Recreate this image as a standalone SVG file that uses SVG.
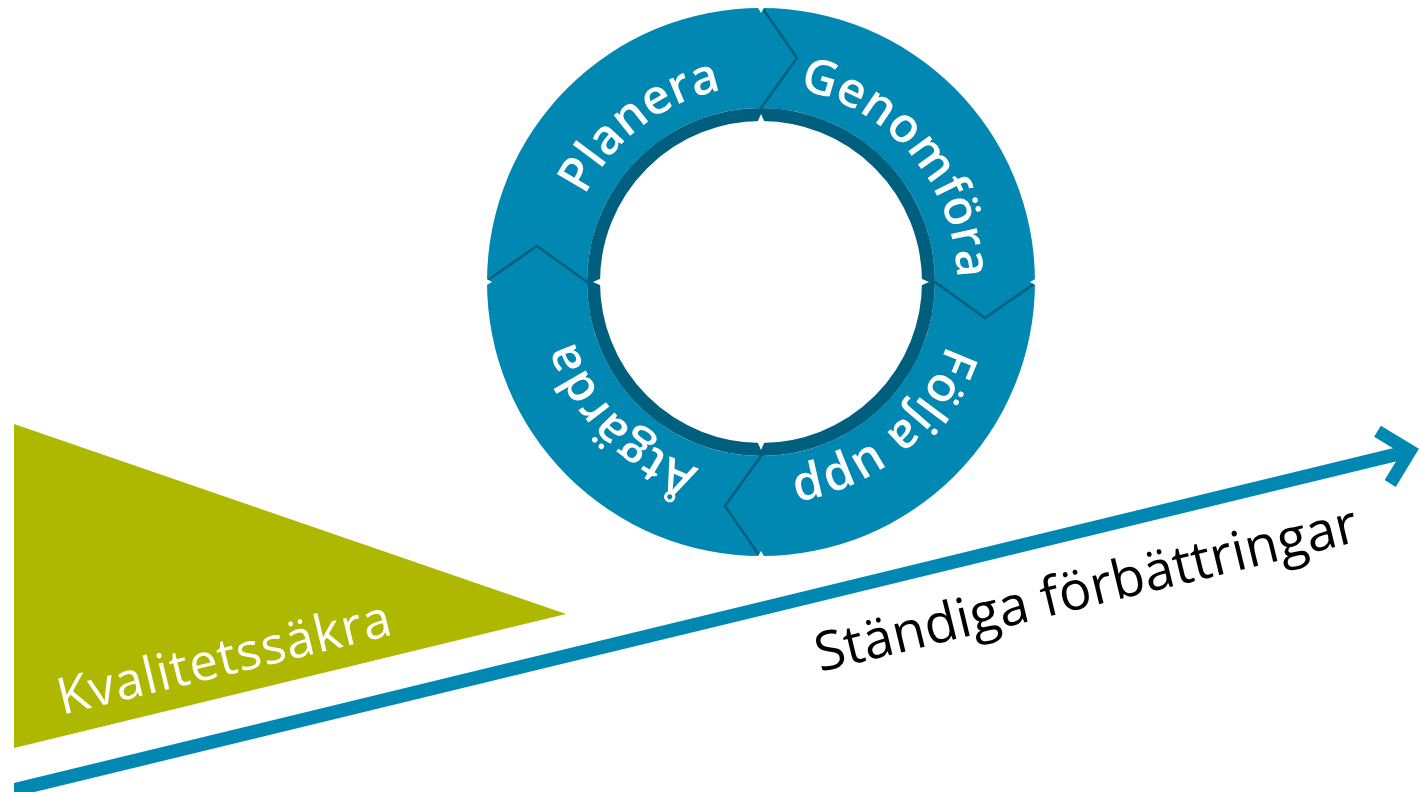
<svg xmlns="http://www.w3.org/2000/svg" xmlns:xlink="http://www.w3.org/1999/xlink" width="1420" height="792" viewBox="0 0 1420 792">
  <style>
    .seg { fill: #0188b2; }
    .seam { fill: none; stroke: #005f7f; stroke-width: 2.5; stroke-linejoin: miter; }
    .notch { fill: #ffffff; }
    .ring-label { font-family: "Open Sans", "Liberation Sans", sans-serif; font-weight: 600; font-size: 48.5px; fill: #ffffff; }
    .flat-label { font-family: "Open Sans", "Liberation Sans", sans-serif; }
  </style>
  <defs>
    <path id="labelCircle" d="M 957 282 A 196 196 0 1 1 565 282 A 196 196 0 1 1 957 282"/>
  </defs>
  <rect width="1420" height="792" fill="#ffffff"/>

  <g id="kvalitetssakra">
    <polygon points="14,424 14,748 566,614" fill="#afb800"/>
    <text class="flat-label" font-size="51" font-weight="400" letter-spacing="1" fill="#ffffff" transform="translate(62,715) rotate(-13.65)">Kvalitetssäkra</text>
  </g>

  <g id="connectors">
    <polygon points="14,783 1404,445.5 1404,459.5 14,797" fill="#0188b2"/>
    <polyline points="1377.5,431.2 1410,451 1390.2,483.5" fill="none" stroke="#0188b2" stroke-width="13" stroke-linejoin="miter" stroke-miterlimit="10"/>
  </g>

  <g id="standiga-forbattringar">
    <text class="flat-label" font-size="54" font-weight="400" fill="#000000" transform="translate(820,672) rotate(-13.65)">Ständiga förbättringar</text>
  </g>

  <g id="cycle">
    <g id="planera">
      <path class="seg" d="M 487 282 A 274 274 0 0 1 761 8 L 797 58 L 761 108 A 174 174 0 0 0 587 282 L 537 246 Z"/>
      <text class="ring-label"><textPath xlink:href="#labelCircle" href="#labelCircle" startOffset="794.6" text-anchor="middle">Planera</textPath></text>
    </g>
    <g id="genomfora">
      <path class="seg" d="M 761 8 A 274 274 0 0 1 1035 282 L 985 318 L 935 282 A 174 174 0 0 0 761 108 L 797 58 Z"/>
      <text class="ring-label"><textPath xlink:href="#labelCircle" href="#labelCircle" startOffset="1094.7" text-anchor="middle">Genomföra</textPath></text>
    </g>
    <g id="folja-upp">
      <path class="seg" d="M 1035 282 A 274 274 0 0 1 761 556 L 725 506 L 761 456 A 174 174 0 0 0 935 282 L 985 318 Z"/>
      <text class="ring-label"><textPath xlink:href="#labelCircle" href="#labelCircle" startOffset="171.0" text-anchor="middle">Följa upp</textPath></text>
    </g>
    <g id="atgarda">
      <path class="seg" d="M 761 556 A 274 274 0 0 1 487 282 L 537 246 L 587 282 A 174 174 0 0 0 761 456 L 725 506 Z"/>
      <text class="ring-label"><textPath xlink:href="#labelCircle" href="#labelCircle" startOffset="463.5" text-anchor="middle">Åtgärda</textPath></text>
    </g>
    <circle cx="761" cy="282" r="167.5" fill="none" stroke="#005f7f" stroke-width="13"/>
    <polyline class="seam" points="763,9 797,58 761,108"/>
    <polyline class="seam" points="1034,284 985,318 935,282"/>
    <polyline class="seam" points="759,555 725,506 761,456"/>
    <polyline class="seam" points="488,280 537,246 587,282"/>
    <polygon class="notch" points="757,6 765,6 761,13"/>
    <polygon class="notch" points="1037,278 1037,286 1030,282"/>
    <polygon class="notch" points="757,558 765,558 761,551"/>
    <polygon class="notch" points="485,278 485,286 492,282"/>
    <polygon class="notch" points="757,123 765,123 761,114"/>
    <polygon class="notch" points="920,278 920,286 929,282"/>
    <polygon class="notch" points="757,441 765,441 761,450"/>
    <polygon class="notch" points="602,278 602,286 593,282"/>
  </g>
</svg>
